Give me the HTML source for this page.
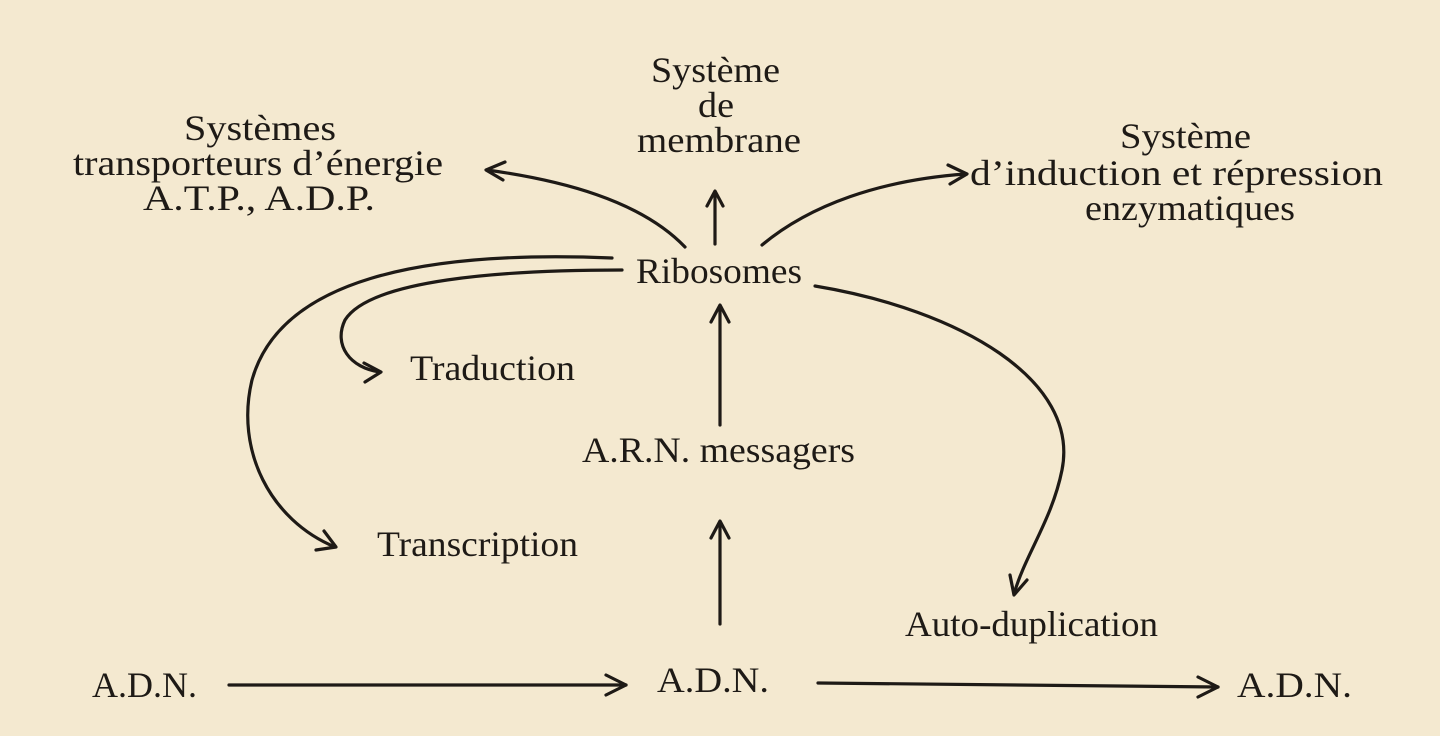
<!DOCTYPE html>
<html><head><meta charset="utf-8"><style>
html,body{margin:0;padding:0;width:1440px;height:736px;overflow:hidden;background:#f4e9d0;}
svg{display:block}
text{font-family:"Liberation Serif",serif;font-size:36px;fill:#1e1a16;}
</style></head><body>
<svg width="1440" height="736" viewBox="0 0 1440 736">
<rect width="1440" height="736" fill="#f4e9d0"/>
<g fill="none" stroke="#1e1a16" stroke-width="3.2" stroke-linecap="round" stroke-linejoin="round">
<path d="M229 685 L626 685"/><path d="M606 675 L626 685 L606 695"/>
<path d="M818 683 L1218 687"/><path d="M1198 677 L1218 687 L1198 697"/>
<path d="M720 624 L720 522"/><path d="M711 538 L720 521 L729 538"/>
<path d="M720 425 L720 306"/><path d="M711 322 L720 305 L729 322"/>
<path d="M715 244 L715 192"/><path d="M707 206 L715 191 L723 206"/>
<path d="M685 247 C640 200 560 180 487 170"/><path d="M505 162 L486 170 L503 180"/>
<path d="M762 245 C810 205 880 180 966 174"/><path d="M948 165 L967 174 L950 184"/>
<path d="M612 258 C420 250 280 280 252 380 C235 450 270 520 335 547"/><path d="M316 550 L336 547 L324 531"/>
<path d="M622 270 C500 270 370 280 345 320 C333 345 350 368 380 372"/><path d="M364 363 L381 372 L365 382"/>
<path d="M815 286 C960 310 1080 380 1062 470 C1052 520 1025 555 1014 594"/><path d="M1010 575 L1014 595 L1027 580"/>
</g>
<g>
<text x="184" y="140" textLength="152" lengthAdjust="spacingAndGlyphs">Systèmes</text>
<text x="73" y="175" textLength="370" lengthAdjust="spacingAndGlyphs">transporteurs d’énergie</text>
<text x="143" y="210" textLength="232" lengthAdjust="spacingAndGlyphs">A.T.P., A.D.P.</text>
<text x="651" y="82" textLength="129" lengthAdjust="spacingAndGlyphs">Système</text>
<text x="698" y="117" textLength="36" lengthAdjust="spacingAndGlyphs">de</text>
<text x="637" y="152" textLength="164" lengthAdjust="spacingAndGlyphs">membrane</text>
<text x="1120" y="148" textLength="131" lengthAdjust="spacingAndGlyphs">Système</text>
<text x="970" y="185" textLength="413" lengthAdjust="spacingAndGlyphs">d’induction et répression</text>
<text x="1085" y="220" textLength="210" lengthAdjust="spacingAndGlyphs">enzymatiques</text>
<text x="636" y="283" textLength="166" lengthAdjust="spacingAndGlyphs">Ribosomes</text>
<text x="410" y="380" textLength="165" lengthAdjust="spacingAndGlyphs">Traduction</text>
<text x="582" y="462" textLength="273" lengthAdjust="spacingAndGlyphs">A.R.N. messagers</text>
<text x="377" y="556" textLength="201" lengthAdjust="spacingAndGlyphs">Transcription</text>
<text x="905" y="636" textLength="253" lengthAdjust="spacingAndGlyphs">Auto-duplication</text>
<text x="92" y="697" textLength="105" lengthAdjust="spacingAndGlyphs">A.D.N.</text>
<text x="657" y="692" textLength="112" lengthAdjust="spacingAndGlyphs">A.D.N.</text>
<text x="1237" y="697" textLength="115" lengthAdjust="spacingAndGlyphs">A.D.N.</text>
</g>
</svg>
</body></html>
